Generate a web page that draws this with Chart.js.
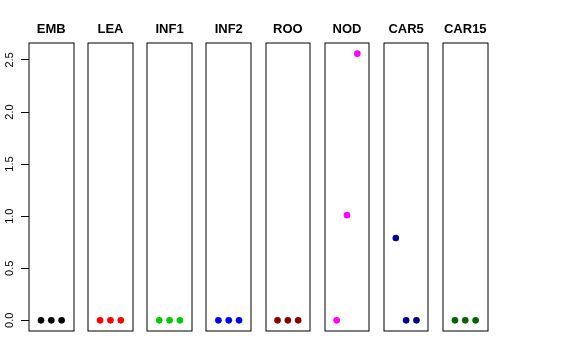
<!DOCTYPE html>
<html>
<head>
<meta charset="utf-8">
<script src="https://cdn.jsdelivr.net/npm/chart.js@4"></script>
<style>
  html, body { margin: 0; padding: 0; background: #fff; }
  #wrap { position: relative; width: 576px; height: 360px; overflow: hidden; }
  #wrap canvas { position: absolute; top: 0; }
</style>
</head>
<body>
<div id="wrap"></div>
<script>
// datos
const panels = ['EMB', 'LEA', 'INF1', 'INF2', 'ROO', 'NOD', 'CAR5', 'CAR15'];
const colores = ['#000000', '#FF0000', '#00CD00', '#0000FF', '#8B0000', '#FF00FF', '#00008B', '#006400'];
const posiciones = [1, 2, 3];
const valEMB = [0, 0, 0];
const valLEA = [0, 0, 0];
const valINF1 = [0, 0, 0];
const valINF2 = [0, 0, 0];
const valROO = [0, 0, 0];
const valNOD = [0, 1.01, 2.56];
const valCAR5 = [0.79, 0, 0];
const valCAR15 = [0, 0, 0];
const yTicks = [0, 0.5, 1, 1.5, 2, 2.5];

const series = [valEMB, valLEA, valINF1, valINF2, valROO, valNOD, valCAR5, valCAR15];

// caja alrededor del area de cada panel
const cajaPlugin = {
  id: 'caja',
  afterDraw(chart) {
    const a = chart.chartArea;
    const c = chart.ctx;
    c.save();
    c.strokeStyle = '#000';
    c.lineWidth = 1;
    c.strokeRect(Math.round(a.left), Math.round(a.top), Math.round(a.right) - Math.round(a.left), Math.round(a.bottom) - Math.round(a.top));
    c.restore();
  }
};

const wrap = document.getElementById('wrap');
const paso = 59.14;
const ancho = 44.6;
const margen = 8;

panels.forEach((nombre, k) => {
  const conEje = k === 0;
  const izq = 29 + paso * k;
  const cvLeft = conEje ? 0 : Math.floor(izq) - margen;
  const cvWidth = conEje ? Math.ceil(izq + ancho) + margen : Math.ceil(ancho + 2 * margen + 2);
  const cv = document.createElement('canvas');
  cv.width = cvWidth;
  cv.height = 360;
  cv.style.left = cvLeft + 'px';
  cv.style.width = cvWidth + 'px';
  cv.style.height = '360px';
  wrap.appendChild(cv);

  const padIzq = conEje ? 0 : izq - cvLeft;
  const padDer = cvWidth - (izq - cvLeft) - ancho;

  const ejeY = {
    type: 'linear',
    display: conEje,
    min: -0.1024,
    max: 2.6624,
    afterBuildTicks: s => { s.ticks = yTicks.map(v => ({ value: v })); },
    border: { display: false },
    grid: {
      drawOnChartArea: false,
      drawTicks: true,
      tickLength: 8,
      tickColor: '#000',
      tickWidth: 1
    },
    ticks: {
      color: '#000',
      font: { family: 'Liberation Sans, Arial, sans-serif', size: 11 },
      minRotation: 90,
      maxRotation: 90,
      crossAlign: 'center',
      padding: 3,
      callback: v => v.toFixed(1)
    }
  };
  if (conEje) ejeY.afterFit = s => { s.width = 29; };

  new Chart(cv, {
    type: 'scatter',
    data: {
      datasets: [{
        data: posiciones.map((x, i) => ({ x: x, y: series[k][i] })),
        backgroundColor: colores[k],
        borderColor: colores[k],
        pointRadius: 3.3,
        pointBorderWidth: 0,
        pointHoverRadius: 3.3
      }]
    },
    options: {
      responsive: false,
      animation: false,
      events: [],
      layout: { padding: { left: padIzq, right: padDer, top: 0, bottom: 29 } },
      plugins: {
        legend: { display: false },
        tooltip: { enabled: false },
        title: {
          display: true,
          text: nombre,
          color: '#000',
          fullSize: false,
          font: { family: 'Liberation Sans, Arial, sans-serif', size: 13, weight: 'bold' },
          padding: { top: 22, bottom: 5.4 }
        }
      },
      scales: {
        x: {
          type: 'linear',
          display: false,
          min: -0.16,
          max: 4.16
        },
        y: ejeY
      }
    },
    plugins: [cajaPlugin]
  });
});
</script>
</body>
</html>
